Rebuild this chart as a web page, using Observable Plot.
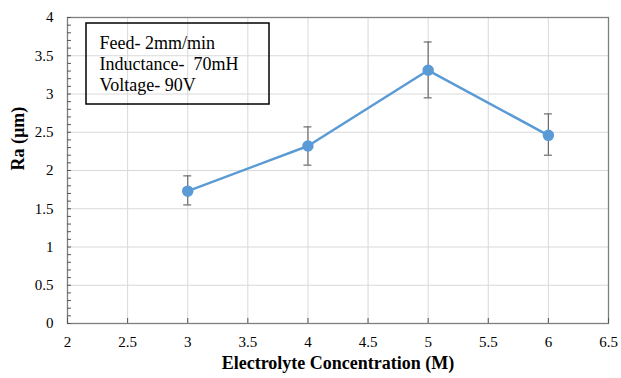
<!DOCTYPE html>
<html>
<head>
<meta charset="utf-8">
<script src="https://cdn.jsdelivr.net/npm/d3@7"></script>
<script src="https://cdn.jsdelivr.net/npm/@observablehq/plot@0.6"></script>
<style>
  html, body { margin: 0; padding: 0; background: #fff; }
  #chart svg, #chart svg text { font-family: "Liberation Serif", "Times New Roman", serif !important; }
</style>
</head>
<body>
<div id="chart"></div>
<script>
// Data
const concentration = [3, 4, 5, 6];
const ra = [1.73, 2.32, 3.31, 2.46];
const raLow = [1.55, 2.07, 2.95, 2.20];
const raHigh = [1.93, 2.57, 3.68, 2.74];
const xTicks = [2, 2.5, 3, 3.5, 4, 4.5, 5, 5.5, 6, 6.5];
const yTicks = [0, 0.5, 1, 1.5, 2, 2.5, 3, 3.5, 4];
const yMinor = d3.range(0, 41).map(i => i / 10);
const legendLines = ["Feed- 2mm/min", "Inductance-\u00a0 70mH", "Voltage- 90V"];
const xTitle = "Electrolyte Concentration (M)";
const yTitle = "Ra (\u00b5m)";

const data = concentration.map((c, i) => ({x: c, y: ra[i], lo: raLow[i], hi: raHigh[i]}));
const W = 621, H = 378, ML = 67, MR = 13, MT = 17, MB = 55;
const plotW = W - ML - MR, plotH = H - MT - MB;
const capHalf = 0.033;
const lineColor = "#5B9BD5";
const errColor = "#6b6b6b";
const serif = "Liberation Serif";
const fmt = d => String(d);

const plot = Plot.plot({
  width: W,
  height: H,
  marginLeft: ML,
  marginRight: MR,
  marginTop: MT,
  marginBottom: MB,
  style: "font-family: 'Liberation Serif', serif; font-size: 15px; color: #000; background: #fff;",
  x: {domain: [2, 6.5]},
  y: {domain: [0, 4]},
  marks: [
    Plot.gridX(xTicks, {stroke: "#d9d9d9", strokeOpacity: 1}),
    Plot.gridY(yTicks, {stroke: "#d9d9d9", strokeOpacity: 1}),
    Plot.frame({stroke: "#7f7f7f", strokeWidth: 1.3}),
    Plot.tickY(yMinor, {y: d => d, insetRight: plotW - 4, stroke: "#555"}),
    Plot.tickX(xTicks, {x: d => d, insetTop: plotH - 5, stroke: "#555"}),
    Plot.axisX(xTicks, {tickSize: 0, tickPadding: 13, tickFormat: fmt, fontSize: 15, fontFamily: serif, fill: "#000", label: null}),
    Plot.axisY(yTicks, {tickSize: 0, tickPadding: 14, tickFormat: fmt, fontSize: 15, fontFamily: serif, fill: "#000", label: null}),
    Plot.ruleX(data, {x: "x", y1: "lo", y2: "hi", stroke: errColor, strokeWidth: 1.2}),
    Plot.ruleY(data, {y: "lo", x1: d => d.x - capHalf, x2: d => d.x + capHalf, stroke: errColor, strokeWidth: 1.2}),
    Plot.ruleY(data, {y: "hi", x1: d => d.x - capHalf, x2: d => d.x + capHalf, stroke: errColor, strokeWidth: 1.2}),
    Plot.line(data, {x: "x", y: "y", stroke: lineColor, strokeWidth: 2.5}),
    Plot.dot(data, {x: "x", y: "y", r: 5, fill: lineColor, stroke: lineColor}),
    Plot.text([yTitle], {text: d => d, frameAnchor: "left", dx: -49, rotate: -90, fontWeight: "bold", fontSize: 18, fontFamily: serif, fill: "#000"}),
    Plot.text([xTitle], {text: d => d, frameAnchor: "bottom", dy: 45, fontWeight: "bold", fontSize: 18, fontFamily: serif, fill: "#000"}),
    ...legendLines.map((t, i) => Plot.text([t], {text: d => d, frameAnchor: "top-left", textAnchor: "start", lineAnchor: "bottom",
      dx: 32, dy: 31 + 21 * i, fontSize: 18, fontFamily: serif, fill: "#000"}))
  ]
});

// legend box
d3.select(plot).append("rect")
  .attr("x", 86).attr("y", 23).attr("width", 183).attr("height", 81)
  .attr("fill", "none").attr("stroke", "#000").attr("stroke-width", 1.5);

document.getElementById("chart").appendChild(plot);
</script>
</body>
</html>
